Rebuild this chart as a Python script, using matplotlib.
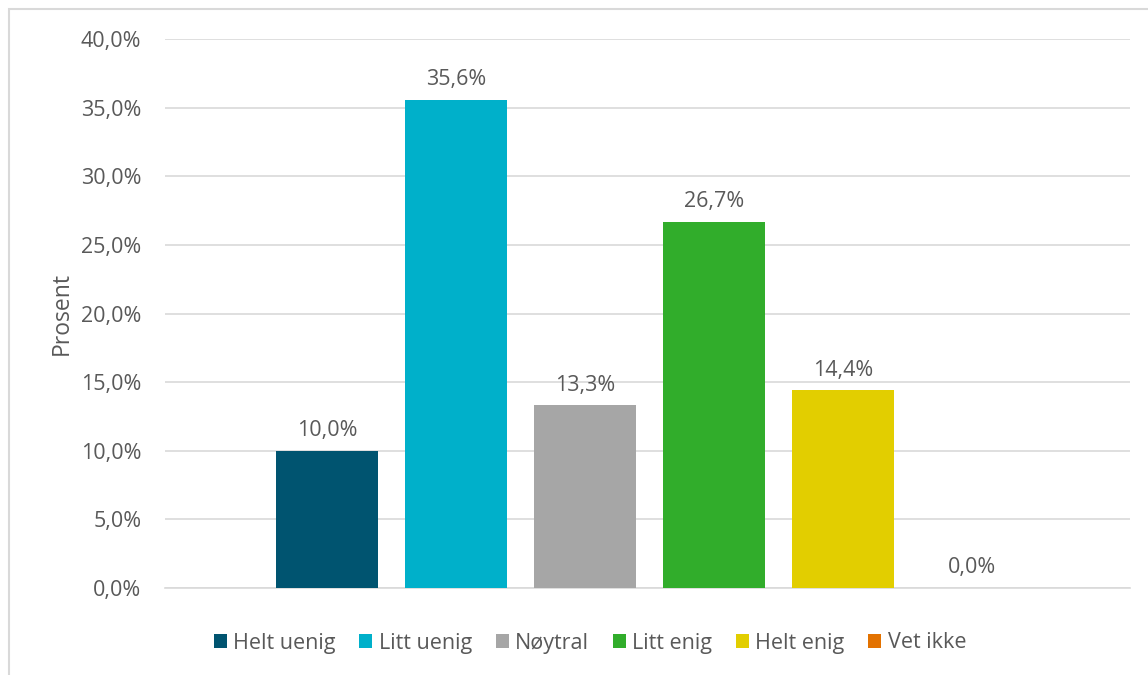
import matplotlib.pyplot as plt
from matplotlib.patches import Rectangle
from matplotlib.ticker import FuncFormatter

# svarfordeling
kategorier = ['Helt uenig', 'Litt uenig', 'Nøytral', 'Litt enig', 'Helt enig', 'Vet ikke']
prosent = [10.0, 35.6, 13.3, 26.7, 14.4, 0.0]
farger = ['#005470', '#00B0CA', '#A6A6A6', '#31AD2B', '#E2CE00', '#E37200']
y_ticks = [0, 5, 10, 15, 20, 25, 30, 35, 40]

tekstfarge = '#595959'
plt.rcParams['font.family'] = ['Open Sans', 'DejaVu Sans']

fig = plt.figure(figsize=(11.48, 6.75), dpi=100)
ax = fig.add_axes([0.1437, 0.129, 0.984 - 0.1437, 0.942 - 0.129])

for i, (navn, verdi, farge) in enumerate(zip(kategorier, prosent, farger)):
    ax.bar(i, verdi, width=0.79, color=farge, label=navn, zorder=3)
    ax.annotate(f'{verdi:.1f}%'.replace('.', ','), (i, verdi), xytext=(0, 7),
                textcoords='offset points', ha='center', va='bottom',
                fontsize=15.5, color=tekstfarge)

ax.set_xlim(-1.256, 6.225)
ax.set_ylim(0, 40)
ax.set_yticks(y_ticks)
ax.yaxis.set_major_formatter(FuncFormatter(lambda v, p: f'{v:.1f}%'.replace('.', ',')))
ax.set_xticks([])
ax.tick_params(axis='y', length=0, pad=17, labelsize=15.5, labelcolor=tekstfarge)
ax.grid(axis='y', color='#d9d9d9', linewidth=1.2, zorder=0)
for side in ['top', 'right', 'left']:
    ax.spines[side].set_visible(False)
ax.spines['bottom'].set_color('#d9d9d9')
ax.spines['bottom'].set_linewidth(1.2)

ax.set_ylabel('Prosent', fontsize=16.5, color=tekstfarge)
ax.yaxis.set_label_coords(-0.095, 0.5)

leg = fig.legend(*ax.get_legend_handles_labels(), loc='center',
                 bbox_to_anchor=(590 / 1148, 1 - 643 / 675), ncol=6, frameon=False,
                 fontsize=15.5, handlelength=0.6, handleheight=0.6, handletextpad=0.3,
                 columnspacing=1.1, labelcolor=tekstfarge)

# ramme rundt diagrammet
fig.patches.append(Rectangle((9 / 1148, -0.1), 1.2, 1 - 9 / 675 + 0.1,
                             transform=fig.transFigure, fill=False,
                             edgecolor='#d9d9d9', linewidth=1.5))

fig.savefig('out.png', dpi=100)
